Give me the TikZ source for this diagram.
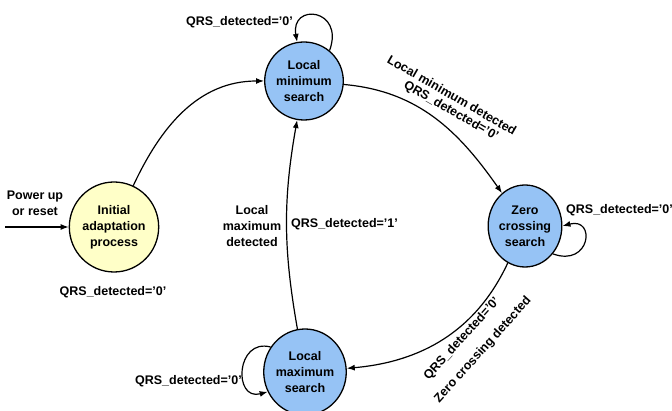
\documentclass[tikz,border=0pt]{standalone}
\usepackage{fontspec}
\setmainfont{Liberation Sans}
\usetikzlibrary{shapes.geometric,arrows.meta}
\definecolor{stblue}{RGB}{150,195,245}
\definecolor{styellow}{RGB}{255,255,200}
\tikzset{
  every node/.style={font=\fontsize{12.5}{16}\selectfont\bfseries, inner sep=0pt},
  state/.style={ellipse, draw, line width=1.3pt, align=center, fill=stblue},
  arr/.style={line width=1.2pt, -{Latex[length=8pt,width=6pt]}},
  lbl/.style={align=center}
}
\begin{document}
\begin{tikzpicture}[x=1pt,y=-1pt]
\useasboundingbox (0,0) rectangle (672,411);
% states
\node[state, fill=styellow, minimum width=82pt, minimum height=90pt] (init) at (114,227) {Initial\\adaptation\\process};
\node[state, minimum width=68pt, minimum height=78pt] (lmin) at (304,81) {Local\\minimum\\search};
\node[state, minimum width=73pt, minimum height=82pt] (zc) at (525,226) {Zero\\crossing\\search};
\node[state, minimum width=75pt, minimum height=86pt] (lmax) at (305,372) {Local\\maximum\\search};
% entry
\coordinate (pw) at (5,227);
\draw[arr] (pw) -- (init.west);
\node[lbl] (pwl) at (35,203) {Power up\\or reset};
\node (initl) at (113,292) {QRS\_detected='0'};
% transitions
\draw[arr] (init) to[out=65,in=180] (lmin);
\draw[arr] (lmin) to[out=-5,in=125] (zc);
\draw[arr] (zc) to[out=-115,in=5] (lmax);
\draw[arr] (lmax) to[out=100,in=-100] (lmin);
% self loops
\draw[arr] (lmin.50) .. controls +(-70:45) and +(-100:40) .. (lmin.100);
\draw[arr] (zc.-45) .. controls +(20:40) and +(-15:35) .. (zc.0);
\draw[arr] (lmax.144) .. controls +(-165:36) and +(-195:36) .. (lmax.208);
% labels
\node[anchor=east] (lminl) at (293,22) {QRS\_detected='0'};
\node[anchor=west] (zcl) at (566,210) {QRS\_detected='0'};
\node[anchor=east] (lmaxl) at (242,381) {QRS\_detected='0'};
\node[lbl] (lmd) at (252,226) {Local\\maximum\\detected};
\node[anchor=west] (q1) at (291,224) {QRS\_detected='1'};
\node[rotate=-30] (lmind) at (452,95) {Local minimum detected};
\node[rotate=-30] (lmindq) at (451,111) {QRS\_detected='0'};
\node[rotate=48] (zcdq) at (462,339) {QRS\_detected='0'};
\node[rotate=48] (zcd) at (483,350) {Zero crossing detected};
\end{tikzpicture}
\end{document}
